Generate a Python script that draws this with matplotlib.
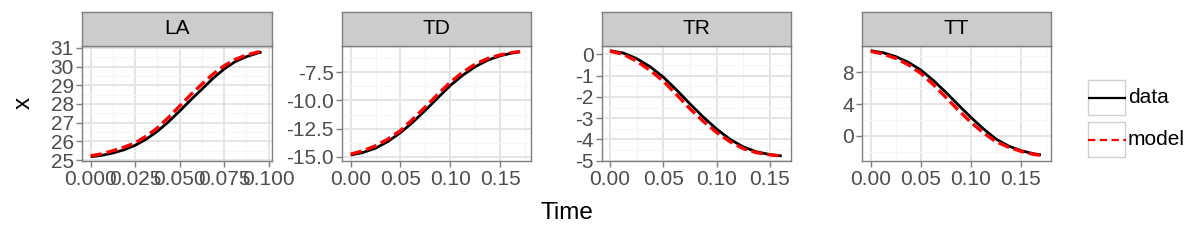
import matplotlib
matplotlib.use("Agg")
import matplotlib.pyplot as plt
from matplotlib.patches import Rectangle
from matplotlib.lines import Line2D
from matplotlib.ticker import FixedLocator

plt.rcParams['font.family'] = ['Liberation Sans', 'DejaVu Sans']

# ---------------- data ----------------
panels = ["LA", "TD", "TR", "TT"]

time_LA = [0, 0.00625, 0.0125, 0.01875, 0.025, 0.03125, 0.0375, 0.04375, 0.05,
           0.05625, 0.0625, 0.06875, 0.075, 0.08125, 0.0875, 0.09375, 0.096]
data_LA = [25.18, 25.25, 25.38, 25.55, 25.79, 26.12, 26.54, 27.05, 27.62,
           28.22, 28.79, 29.37, 29.87, 30.27, 30.53, 30.72, 30.77]
model_LA = [25.23, 25.33, 25.50, 25.69, 25.92, 26.28, 26.72, 27.28, 27.89,
            28.50, 29.06, 29.60, 30.04, 30.38, 30.62, 30.77, 30.80]

time_TD = [0, 0.0125, 0.025, 0.0375, 0.05, 0.0625, 0.075, 0.0875, 0.1,
           0.1125, 0.125, 0.1375, 0.15, 0.1625, 0.17]
data_TD = [-14.85, -14.62, -14.24, -13.64, -12.86, -11.92, -10.87, -9.76, -8.67,
           -7.76, -7.00, -6.42, -6.03, -5.78, -5.68]
model_TD = [-14.77, -14.47, -14.03, -13.43, -12.68, -11.65, -10.57, -9.45, -8.38,
            -7.50, -6.77, -6.28, -5.95, -5.74, -5.65]

time_TR = [0, 0.0125, 0.025, 0.0375, 0.05, 0.0625, 0.075, 0.0875, 0.1,
           0.1125, 0.125, 0.1375, 0.15, 0.161]
data_TR = [0.17, 0.06, -0.20, -0.58, -1.07, -1.68, -2.33, -2.95, -3.51,
           -3.99, -4.35, -4.58, -4.71, -4.77]
model_TR = [0.15, 0.00, -0.32, -0.75, -1.26, -1.90, -2.56, -3.15, -3.67,
            -4.10, -4.43, -4.62, -4.72, -4.78]

time_TT = [0, 0.0125, 0.025, 0.0375, 0.05, 0.0625, 0.075, 0.0875, 0.1,
           0.1125, 0.125, 0.1375, 0.15, 0.1625, 0.17]
data_TT = [10.72, 10.45, 9.97, 9.25, 8.29, 6.98, 5.49, 3.90, 2.34,
           0.90, -0.38, -1.25, -1.84, -2.22, -2.38]
model_TT = [10.63, 10.30, 9.75, 8.95, 7.87, 6.45, 4.85, 3.25, 1.72,
            0.40, -0.71, -1.40, -1.92, -2.30, -2.43]

yticks_LA = [25, 26, 27, 28, 29, 30, 31]
yticks_TD = [-15.0, -12.5, -10.0, -7.5]
yticks_TR = [0, -1, -2, -3, -4, -5]
yticks_TT = [0, 4, 8]
ylabels_LA = ["25", "26", "27", "28", "29", "30", "31"]
ylabels_TD = ["-15.0", "-12.5", "-10.0", "-7.5"]
ylabels_TR = ["0", "-1", "-2", "-3", "-4", "-5"]
ylabels_TT = ["0", "4", "8"]
xticks_LA = [0.0, 0.025, 0.05, 0.075, 0.1]
xlabels_LA = ["0.000", "0.025", "0.050", "0.075", "0.100"]
xticks_T = [0.0, 0.05, 0.10, 0.15]
xlabels_T = ["0.00", "0.05", "0.10", "0.15"]

series_names = ["data", "model"]

# ---------------- layout / style ----------------
W, H = 1200, 240
fig = plt.figure(figsize=(W / 100, H / 100), dpi=100)

def px_axes(x0, y0, x1, y1, **kw):
    return fig.add_axes([x0 / W, 1 - y1 / H, (x1 - x0) / W, (y1 - y0) / H], **kw)

BORDER = "#7F7F7F"
TICKTXT = "#4D4D4D"
FS = 15
FS_TITLE = 17.5

panel_cfg = [
    dict(x0=82, x1=272, t=time_LA, d=data_LA, m=model_LA, ylim=(24.95, 31.1), xlim=(-0.0049, 0.1019),
         yt=yticks_LA, yl=ylabels_LA, ymin=[24.5 + i for i in range(8)],
         xt=xticks_LA, xl=xlabels_LA, xmin=[0.0125, 0.0375, 0.0625, 0.0875]),
    dict(x0=342, x1=531, t=time_TD, d=data_TD, m=model_TD, ylim=(-15.38, -5.16), xlim=(-0.0087, 0.181),
         yt=yticks_TD, yl=ylabels_TD, ymin=[-13.75, -11.25, -8.75, -6.25],
         xt=xticks_T, xl=xlabels_T, xmin=[0.025, 0.075, 0.125, 0.175]),
    dict(x0=602, x1=791, t=time_TR, d=data_TR, m=model_TR, ylim=(-5.01, 0.39), xlim=(-0.0075, 0.1697),
         yt=yticks_TR, yl=ylabels_TR, ymin=[-4.5, -3.5, -2.5, -1.5, -0.5],
         xt=xticks_T, xl=xlabels_T, xmin=[0.025, 0.075, 0.125]),
    dict(x0=862, x1=1051, t=time_TT, d=data_TT, m=model_TT, ylim=(-3.14, 11.3), xlim=(-0.0087, 0.180),
         yt=yticks_TT, yl=ylabels_TT, ymin=[-2, 2, 6, 10],
         xt=xticks_T, xl=xlabels_T, xmin=[0.025, 0.075, 0.125, 0.175]),
]

for name, cfg in zip(panels, panel_cfg):
    ax = px_axes(cfg['x0'], 46, cfg['x1'], 161)
    ax.set_facecolor("white")
    ax.plot(cfg['t'], cfg['d'], color="black", lw=2.0, solid_capstyle='butt', zorder=3)
    ax.plot(cfg['t'], cfg['m'], color="#FF0000", lw=2.4, linestyle=(0, (3.4, 1.4)),
            dash_capstyle='butt', zorder=4)
    ax.set_xlim(*cfg['xlim'])
    ax.set_ylim(*cfg['ylim'])
    ax.set_yticks(cfg['yt'])
    ax.set_yticklabels(cfg['yl'])
    ax.set_xticks(cfg['xt'])
    ax.set_xticklabels(cfg['xl'])
    ax.yaxis.set_minor_locator(FixedLocator(cfg['ymin']))
    ax.xaxis.set_minor_locator(FixedLocator(cfg['xmin']))
    ax.grid(which='major', color="#E5E5E5", lw=1.4, zorder=0)
    ax.grid(which='minor', color="#F5F5F5", lw=0.8, zorder=0)
    ax.set_axisbelow(True)
    ax.tick_params(which='major', length=4.5, width=1.0, color=BORDER,
                   labelsize=FS, labelcolor=TICKTXT, pad=1.5)
    ax.tick_params(axis='x', which='major', pad=2)
    ax.tick_params(which='minor', length=0)
    for sp in ax.spines.values():
        sp.set_color(BORDER)
        sp.set_linewidth(1.0)
        sp.set_zorder(5)
    # strip
    sax = px_axes(cfg['x0'], 12, cfg['x1'], 46)
    sax.set_facecolor("#CCCCCC")
    sax.set_xticks([])
    sax.set_yticks([])
    for sp in sax.spines.values():
        sp.set_color(BORDER)
        sp.set_linewidth(1.0)
    sax.text(0.5, 0.5, name, transform=sax.transAxes, ha='center', va='center',
             fontsize=FS, color="black")

# axis titles
fig.text(566.5 / W, 1 - 213 / H, "Time", ha='center', va='center', fontsize=FS_TITLE, color='black')
fig.text(24 / W, 1 - 103 / H, "x", ha='center', va='center', fontsize=FS_TITLE, rotation=90, color='black')

# legend (drawn manually, ggplot style)
lax = fig.add_axes([0, 0, 1, 1], facecolor='none')
lax.set_xlim(0, W)
lax.set_ylim(H, 0)
lax.axis('off')
key_styles = [dict(color="black", lw=1.6, linestyle='-'),
              dict(color="#FF0000", lw=1.6, linestyle=(0, (3.3, 2.0)))]
key_tops = [80, 122]
for lab, st, top in zip(series_names, key_styles, key_tops):
    lax.add_patch(Rectangle((1088, top), 37, 35, facecolor='white', edgecolor="#D0D0D0", lw=1.0))
    yc = top + 17.5
    lax.add_line(Line2D([1088, 1126], [yc, yc], solid_capstyle='butt', dash_capstyle='butt', **st))
    lax.text(1128, yc, lab, ha='left', va='center', fontsize=FS, color='black')

fig.savefig("out.png", dpi=100)
